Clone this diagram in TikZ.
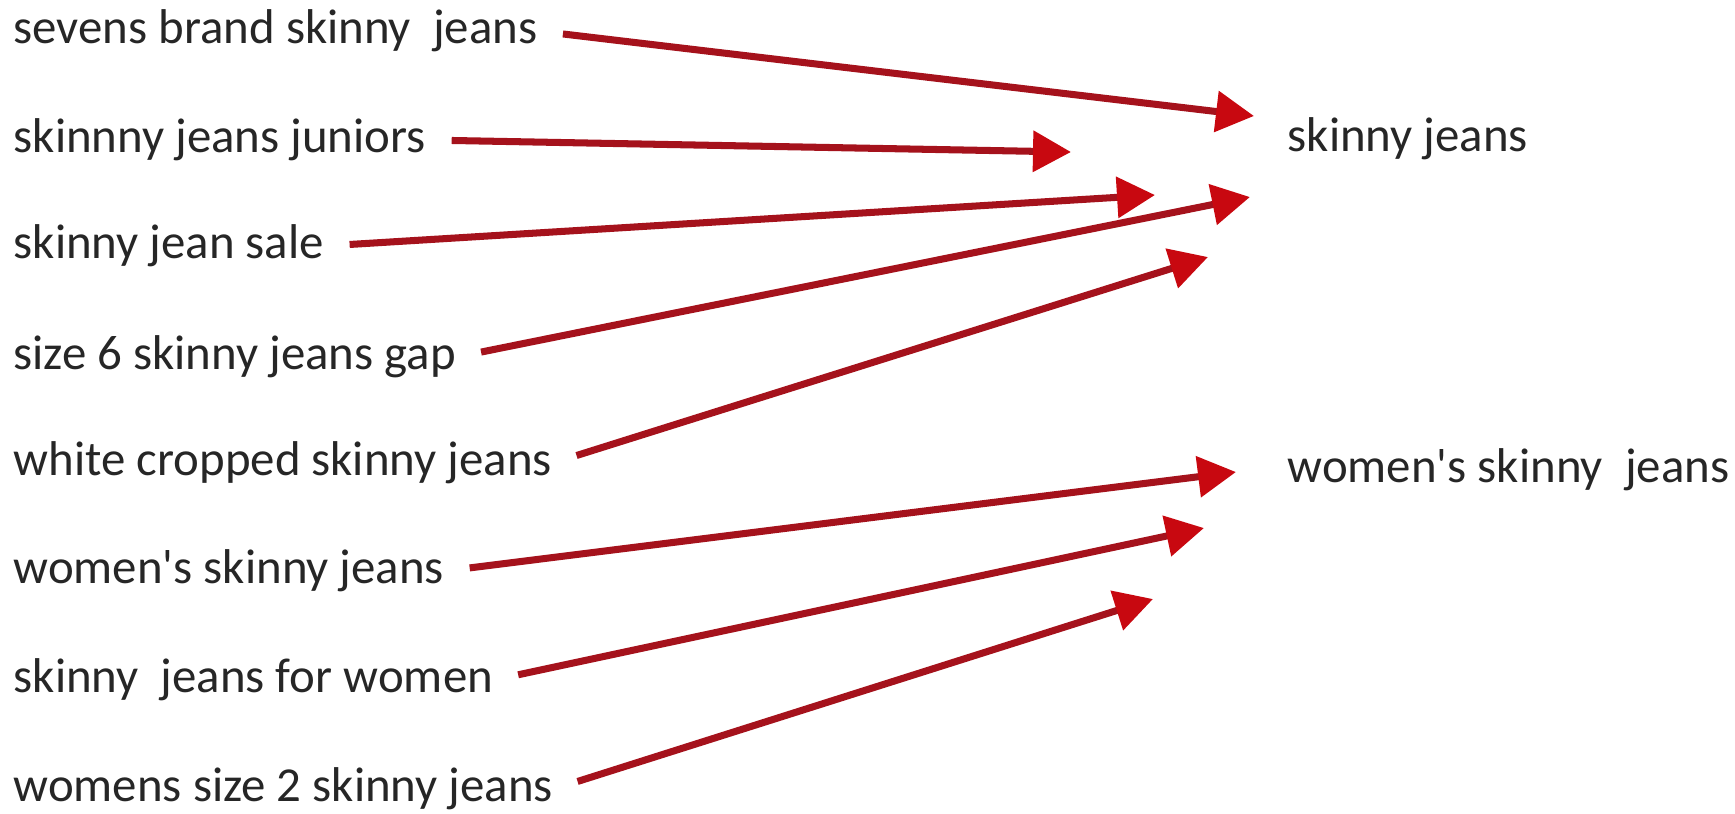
\documentclass[tikz,border=0pt]{standalone}
\usepackage{fontspec}
\setmainfont{Carlito}
\usetikzlibrary{arrows.meta}
\definecolor{linkred}{RGB}{165,18,28}
\definecolor{tipred}{RGB}{200,8,16}

\begin{document}
\begin{tikzpicture}[
      query/.style={font=\fontsize{13.9}{16}\selectfont, anchor=west, inner sep=0pt, text=black!85},
      link/.style={draw=linkred, line width=2pt, shorten <=0.25cm,
        -{Triangle[length=0.38cm, width=0.4cm, color=tipred, fill=tipred]}}
    ]
    \useasboundingbox (0,0) rectangle (17.35,-8.13);

    % queries
    \node[query] (q1) at (0.13,-0.31) {sevens brand skinny\ \ jeans};
    \node[query] (q2) at (0.13,-1.40) {skinnny jeans juniors};
    \node[query] (q3) at (0.13,-2.46) {skinny jean sale};
    \node[query] (q4) at (0.13,-3.57) {size 6 skinny jeans gap};
    \node[query] (q5) at (0.13,-4.63) {white cropped skinny jeans};
    \node[query] (q6) at (0.13,-5.71) {women\textquotesingle s skinny jeans};
    \node[query] (q7) at (0.13,-6.80) {skinny\ \ jeans for women};
    \node[query] (q8) at (0.13,-7.89) {womens size 2 skinny jeans};

    % targets
    \node[query] (skinny) at (12.87,-1.39) {skinny jeans};
    \node[query] (women) at (12.87,-4.70) {women\textquotesingle s skinny\ \ jeans};

    % arrow tips
    \coordinate (t1) at (12.54,-1.16);
    \coordinate (t2) at (10.71,-1.52);
    \coordinate (t3) at (11.55,-1.95);
    \coordinate (t4) at (12.50,-1.97);
    \coordinate (t5) at (12.08,-2.57);
    \coordinate (t6) at (12.36,-4.72);
    \coordinate (t7) at (12.04,-5.28);
    \coordinate (t8) at (11.53,-5.99);

    \draw[link] (q1.east) -- (t1);
    \draw[link] (q2.east) -- (t2);
    \draw[link] (q3.east) -- (t3);
    \draw[link] (q4.east) -- (t4);
    \draw[link] (q5.east) -- (t5);
    \draw[link] (q6.east) -- (t6);
    \draw[link] (q7.east) -- (t7);
    \draw[link] (q8.east) -- (t8);
  \end{tikzpicture}
\end{document}
